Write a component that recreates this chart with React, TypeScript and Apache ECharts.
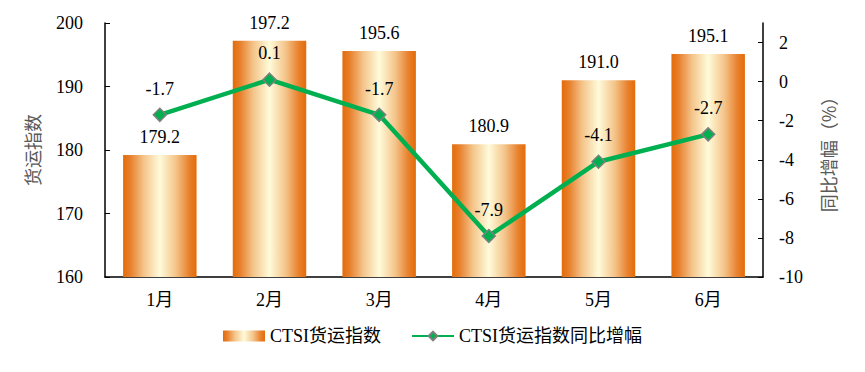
import React, { useEffect, useRef } from "react";
import * as echarts from "echarts";

const months = ["1月", "2月", "3月", "4月", "5月", "6月"];
const indexValues = [179.2, 197.2, 195.6, 180.9, 191.0, 195.1];
const yoyValues = [-1.7, 0.1, -1.7, -7.9, -4.1, -2.7];
const leftTicks = [160, 170, 180, 190, 200];
const rightTicks = [-10, -8, -6, -4, -2, 0, 2];
const barName = "CTSI货运指数";
const lineName = "CTSI货运指数同比增幅";

const SERIF = "Liberation Serif, Noto Sans CJK SC, serif";
const FS = 18;

export default function App() {
  const ref = useRef<HTMLDivElement>(null);
  useEffect(() => {
    if (!ref.current) return;
    const chart = echarts.init(ref.current, undefined, { renderer: "svg" });
    const barGradient = new echarts.graphic.LinearGradient(0, 0, 1, 0, [
      { offset: 0, color: "#E36C09" },
      { offset: 0.1, color: "#E8802C" },
      { offset: 0.28, color: "#F4C48A" },
      { offset: 0.5, color: "#FFFBDA" },
      { offset: 0.72, color: "#F4C48A" },
      { offset: 0.9, color: "#E8802C" },
      { offset: 1, color: "#E36C09" },
    ]);
    chart.setOption({
      animation: false,
      textStyle: { fontFamily: SERIF },
      grid: { left: 97, right: 94, top: 15, bottom: 95 },
      legend: {
        bottom: 22,
        left: "center",
        itemGap: 30,
        itemWidth: 42,
        itemHeight: 11,
        textStyle: { fontFamily: SERIF, fontSize: FS, color: "#000" },
        data: [
          { name: barName, icon: "rect" },
          { name: lineName },
        ],
      },
      xAxis: {
        type: "category",
        data: months,
        axisLine: { onZero: false, lineStyle: { color: "#000", width: 1.5 } },
        axisTick: { inside: true, length: 5, lineStyle: { color: "#000" } },
        axisLabel: { fontFamily: SERIF, fontSize: FS, color: "#000", margin: 14 },
      },
      yAxis: [
        {
          type: "value",
          min: 160,
          max: 200,
          interval: 10,
          name: "货运指数",
          nameLocation: "middle",
          nameRotate: 90,
          nameGap: 64,
          nameTextStyle: { fontFamily: "Noto Sans CJK SC, sans-serif", fontSize: FS, color: "#595959" },
          axisLine: { show: true, lineStyle: { color: "#000", width: 1.5 } },
          axisTick: { show: true, inside: true, length: 5, lineStyle: { color: "#000" } },
          axisLabel: {
            fontFamily: SERIF,
            fontSize: FS,
            color: "#000",
            margin: 22,
            customValues: leftTicks,
          },
          splitLine: { show: false },
        },
        {
          type: "value",
          min: -10,
          max: 3,
          interval: 2,
          name: "同比增幅（%）",
          nameLocation: "middle",
          nameRotate: 90,
          nameGap: 56,
          nameTextStyle: { fontFamily: "Noto Sans CJK SC, sans-serif", fontSize: FS, color: "#595959" },
          axisLine: { show: true, lineStyle: { color: "#000", width: 1.5 } },
          axisTick: {
            show: true,
            inside: true,
            length: 5,
            lineStyle: { color: "#000" },
            customValues: rightTicks,
          },
          axisLabel: {
            fontFamily: SERIF,
            fontSize: FS,
            color: "#000",
            margin: 16,
            customValues: rightTicks,
          },
          splitLine: { show: false },
        },
      ],
      series: [
        {
          name: barName,
          type: "bar",
          yAxisIndex: 0,
          data: indexValues,
          barCategoryGap: "33%",
          itemStyle: { color: barGradient },
          label: {
            show: true,
            position: "top",
            distance: 9,
            fontFamily: SERIF,
            fontSize: FS,
            color: "#000",
            formatter: (p: any) => Number(p.value).toFixed(1),
          },
        },
        {
          name: lineName,
          type: "line",
          yAxisIndex: 1,
          data: yoyValues,
          symbol: "diamond",
          symbolSize: 13,
          lineStyle: { color: "#00B050", width: 4.5 },
          itemStyle: { color: "#00B050", borderColor: "#7F7F7F", borderWidth: 1.5 },
          label: {
            show: true,
            position: "top",
            distance: 10,
            fontFamily: SERIF,
            fontSize: FS,
            color: "#000",
            formatter: (p: any) => Number(p.value).toFixed(1),
          },
        },
      ],
    });
    return () => chart.dispose();
  }, []);
  return <div ref={ref} style={{ width: 849, height: 364 }} />;
}
